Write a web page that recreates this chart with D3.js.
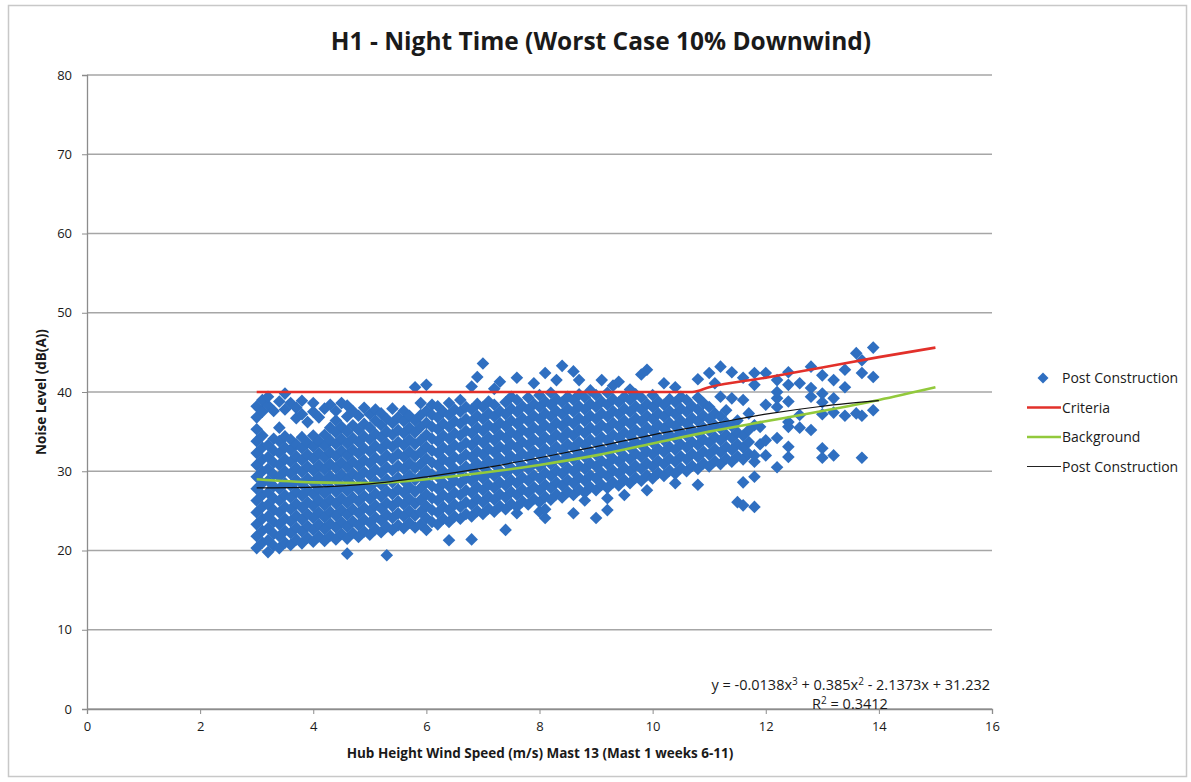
<!DOCTYPE html>
<html>
<head>
<meta charset="utf-8">
<script src="https://cdn.jsdelivr.net/npm/d3@7"></script>
<style>
  body { margin: 0; background: #fff; }
  text { font-family: 'Open Sans', 'Noto Sans', sans-serif; fill: #1a1a1a; }
</style>
</head>
<body>
<div id="chart"></div>
<script>
// axis ticks
var xTicks = [0, 2, 4, 6, 8, 10, 12, 14, 16];
var yTicks = [0, 10, 20, 30, 40, 50, 60, 70, 80];

// Post Construction measurements: [wind speed, [noise levels read at that speed]]
var postConstruction = [
  [3.0, [20.3,21.8,23.3,24.8,26.3,27.8,29.3,30.8,32.3,33.8,35.3,36.8,38.2]],
  [3.1, [21.0,22.5,24.0,25.5,27.0,28.5,30.0,31.5,33.0,34.5,37.5,39.0]],
  [3.2, [19.8,21.3,22.8,24.3,25.8,27.3,28.8,30.3,31.8,33.3,38.3,39.4]],
  [3.3, [20.6,22.1,23.6,25.1,26.6,28.1,29.6,31.1,32.6,34.1,37.6]],
  [3.4, [20.3,21.8,23.3,24.8,26.3,27.8,29.3,30.8,32.3,33.8,35.5,38.8]],
  [3.5, [21.0,22.5,24.0,25.5,27.0,28.5,30.0,31.5,33.0,34.4,37.8,39.8]],
  [3.6, [20.7,22.2,23.7,25.2,26.7,28.2,29.7,31.2,32.7,34.0,38.6]],
  [3.7, [21.4,22.9,24.4,25.9,27.4,28.9,30.4,31.9,33.4,36.7,38.0]],
  [3.8, [20.9,22.4,23.9,25.4,26.9,28.4,29.9,31.4,32.9,34.3,37.2,38.9]],
  [3.9, [21.6,23.1,24.6,26.1,27.6,29.1,30.6,32.1,33.6,36.2]],
  [4.0, [21.1,22.6,24.1,25.6,27.1,28.6,30.1,31.6,33.1,34.5,37.5,38.6]],
  [4.1, [21.8,23.3,24.8,26.3,27.8,29.3,30.8,32.3,33.8,36.8]],
  [4.2, [21.2,22.7,24.2,25.7,27.2,28.7,30.2,31.7,33.2,34.6,37.9]],
  [4.3, [21.9,23.4,24.9,26.4,27.9,29.4,30.9,32.4,33.9,35.5,38.4]],
  [4.4, [21.4,22.9,24.4,25.9,27.4,28.9,30.4,31.9,33.4,34.9,36.4,37.6]],
  [4.5, [22.1,23.6,25.1,26.6,28.1,29.6,31.1,32.6,34.1,35.6,38.6]],
  [4.6, [19.6,21.5,23.0,24.5,26.0,27.5,29.0,30.5,32.0,33.5,35.0,36.9,38.3]],
  [4.7, [22.2,23.7,25.2,26.7,28.2,29.7,31.2,32.7,34.2,35.8,37.6]],
  [4.8, [21.7,23.2,24.7,26.2,27.7,29.2,30.7,32.2,33.7,35.2,37.0]],
  [4.9, [22.4,23.9,25.4,26.9,28.4,29.9,31.4,32.9,34.4,36.0,38.0]],
  [5.0, [22.0,23.5,25.0,26.5,28.0,29.5,31.0,32.5,34.0,35.5,37.2]],
  [5.1, [22.7,24.2,25.7,27.2,28.7,30.2,31.7,33.2,34.7,36.4,37.8]],
  [5.2, [22.3,23.8,25.3,26.8,28.3,29.8,31.3,32.8,34.3,35.8,37.3]],
  [5.3, [19.4,23.0,24.5,26.0,27.5,29.0,30.5,32.0,33.5,35.0,36.6]],
  [5.4, [22.6,24.1,25.6,27.1,28.6,30.1,31.6,33.1,34.6,36.1,37.9]],
  [5.5, [23.2,24.7,26.2,27.7,29.2,30.7,32.2,33.7,35.2,36.8]],
  [5.6, [22.8,24.3,25.8,27.3,28.8,30.3,31.8,33.3,34.8,36.3,37.6]],
  [5.7, [23.5,25.0,26.5,28.0,29.5,31.0,32.5,34.0,35.5,37.0]],
  [5.8, [22.9,24.4,25.9,27.4,28.9,30.4,31.9,33.4,34.9,36.4,40.6]],
  [5.9, [23.3,24.9,26.4,27.9,29.4,30.9,32.4,33.9,35.6,37.1,38.6]],
  [6.0, [22.6,24.1,25.6,27.1,28.6,30.1,31.6,33.1,34.6,36.1,37.6,40.9]],
  [6.1, [23.6,25.1,26.6,28.1,29.6,31.1,32.6,34.1,35.6,37.1,38.4]],
  [6.2, [23.3,24.8,26.3,27.8,29.3,30.8,32.3,33.8,35.3,36.8,38.2]],
  [6.3, [24.0,25.5,27.0,28.5,30.0,31.5,33.0,34.5,36.0,37.5]],
  [6.4, [21.3,23.6,25.1,26.6,28.1,29.6,31.1,32.6,34.1,35.6,37.1,38.6]],
  [6.5, [24.3,25.8,27.3,28.8,30.3,31.8,33.3,34.8,36.3,37.8]],
  [6.6, [24.0,25.5,27.0,28.5,30.0,31.5,33.0,34.5,36.0,37.5,39.0]],
  [6.7, [24.6,26.1,27.6,29.1,30.6,32.1,33.6,35.1,36.6,38.1]],
  [6.8, [21.4,24.3,25.8,27.3,28.8,30.3,31.8,33.3,34.8,36.3,37.8,40.7]],
  [6.9, [25.0,26.5,28.0,29.5,31.0,32.5,34.0,35.5,37.0,38.5,41.9]],
  [7.0, [24.6,26.1,27.6,29.1,30.6,32.1,33.6,35.1,36.6,38.1,43.6]],
  [7.1, [25.3,26.8,28.3,29.8,31.3,32.8,34.3,35.8,37.3,38.8]],
  [7.2, [24.9,26.4,27.9,29.4,30.9,32.4,33.9,35.4,36.9,38.4,40.4]],
  [7.3, [25.6,27.1,28.6,30.1,31.6,33.1,34.6,36.1,37.6,41.3]],
  [7.4, [22.6,25.2,26.7,28.2,29.7,31.2,32.7,34.2,35.7,37.2,38.7]],
  [7.5, [25.9,27.4,28.9,30.4,31.9,33.4,34.9,36.4,37.9,39.4]],
  [7.6, [24.7,25.5,27.0,28.5,30.0,31.5,33.0,34.5,36.0,37.5,39.0,41.8]],
  [7.7, [26.2,27.7,29.2,30.7,32.2,33.7,35.2,36.7,38.2]],
  [7.8, [25.8,27.3,28.8,30.3,31.8,33.3,34.8,36.3,37.8,39.3]],
  [7.9, [26.5,28.0,29.5,31.0,32.5,34.0,35.5,37.0,38.5,41.1]],
  [8.0, [24.9,26.1,27.6,29.1,30.6,32.1,33.6,35.1,36.6,38.1,39.6]],
  [8.1, [24.1,25.2,26.8,28.3,29.8,31.3,32.8,34.3,35.8,37.3,38.8,42.4]],
  [8.2, [26.4,27.9,29.4,30.9,32.4,33.9,35.4,36.9,38.4,39.9]],
  [8.3, [27.1,28.6,30.1,31.6,33.1,34.6,36.1,37.6,39.1,41.5]],
  [8.4, [26.7,28.2,29.7,31.2,32.7,34.2,35.7,37.2,38.7,43.3]],
  [8.5, [27.4,28.9,30.4,31.9,33.4,34.9,36.4,37.9,39.4]],
  [8.6, [24.7,27.0,28.5,30.0,31.5,33.0,34.5,36.0,37.5,39.0,42.6]],
  [8.7, [27.7,29.2,30.7,32.2,33.7,35.2,36.7,38.2,39.7,41.5]],
  [8.8, [26.3,27.3,28.8,30.3,31.8,33.3,34.8,36.3,37.8,39.3]],
  [8.9, [28.0,29.5,31.0,32.5,34.0,35.5,37.0,38.5,40.2]],
  [9.0, [24.1,27.6,29.1,30.6,32.1,33.6,35.1,36.6,38.1,39.6]],
  [9.1, [28.3,29.8,31.3,32.8,34.3,35.8,37.3,38.8,41.5]],
  [9.2, [25.1,26.6,27.9,29.4,30.9,32.4,33.9,35.4,36.9,38.4,39.9]],
  [9.3, [28.6,30.1,31.6,33.1,34.6,36.1,37.6,39.1,40.8]],
  [9.4, [28.2,29.7,31.2,32.7,34.2,35.7,37.2,38.7,41.3]],
  [9.5, [27.0,28.9,30.4,31.9,33.4,34.9,36.4,37.9,39.4]],
  [9.6, [28.5,30.0,31.5,33.0,34.5,36.0,37.5,39.0,40.3]],
  [9.7, [29.2,30.7,32.2,33.7,35.2,36.7,38.2,39.7]],
  [9.8, [28.8,30.3,31.8,33.3,34.8,36.3,37.8,39.3,42.2]],
  [9.9, [27.6,29.5,31.0,32.5,34.0,35.5,37.0,38.5,42.8]],
  [10.0, [29.1,30.6,32.1,33.6,35.1,36.6,38.1,39.6]],
  [10.1, [29.8,31.3,32.8,34.3,35.8,37.3,38.8]],
  [10.2, [29.4,30.9,32.4,33.9,35.4,36.9,38.4,41.1]],
  [10.3, [30.1,31.6,33.1,34.6,36.1,37.6,39.1]],
  [10.4, [28.5,29.7,31.2,32.7,34.2,35.7,37.2,38.7,40.6]],
  [10.5, [30.4,31.9,33.4,34.9,36.4,37.9,39.4]],
  [10.6, [30.0,31.5,33.0,34.5,36.0,37.5,39.0]],
  [10.7, [30.7,32.2,33.7,35.2,36.7,38.2]],
  [10.8, [28.3,30.3,31.8,33.3,34.8,36.3,37.8,39.3,41.6]],
  [10.9, [31.0,32.5,34.0,35.5,37.0,38.6]],
  [11.0, [30.6,32.1,33.6,35.1,36.6,38.1,42.4]],
  [11.1, [31.3,32.8,34.3,35.8,37.3,41.1]],
  [11.2, [30.9,32.4,33.9,35.4,36.9,39.4,43.2]],
  [11.3, [31.6,33.1,34.6,36.1,37.7]],
  [11.4, [31.2,32.7,34.2,35.7,39.2,42.5]],
  [11.5, [26.1,31.9,33.4,34.9,36.4]],
  [11.6, [25.7,28.6,31.5,33.0,34.5,39.0,41.8]],
  [11.7, [32.2,33.7,35.2,37.3]],
  [11.8, [25.5,29.3,31.2,32.0,35.8,40.9,42.4]],
  [11.9, [33.4,35.6]],
  [12.0, [32.0,33.9,38.4,42.4]],
  [12.2, [30.5,34.2,38.1,39.2,40.0,41.5]],
  [12.4, [31.8,33.1,35.6,36.2,38.8,40.9,42.5]],
  [12.6, [35.5,37.1,41.1]],
  [12.8, [35.2,39.4,40.5,43.2]],
  [13.0, [31.7,32.9,37.2,38.7,39.8,42.1]],
  [13.2, [32.0,37.4,39.2,41.5]],
  [13.4, [37.0,40.6,42.8]],
  [13.6, [37.3,44.9]],
  [13.7, [31.7,37.0,42.4,44.0]],
  [13.9, [37.7,41.9,45.6]]
];

// line series
var criteriaX = [3, 4, 5, 6, 7, 8, 9, 10, 10.7, 11, 12, 13, 14, 15];
var criteriaY = [40, 40, 40, 40, 40, 40, 40, 40, 40, 40.6, 41.8, 43.1, 44.4, 45.6];
var backgroundX = [3, 4, 5, 6, 7, 8, 9, 10, 11, 12, 13, 14, 15];
var backgroundY = [29.0, 28.6, 28.5, 29.0, 29.8, 30.8, 32.0, 33.5, 35.0, 36.3, 37.6, 39.0, 40.6];
var trendX = [3, 4, 5, 6, 7, 8, 9, 10, 11, 12, 13, 14];
var trendY = [27.9, 28.0, 28.4, 29.3, 30.4, 31.7, 33.1, 34.6, 35.9, 37.2, 38.2, 38.9];

var W = 1191, H = 782;
var svg = d3.select("#chart").append("svg").attr("width", W).attr("height", H);

// chart frame
svg.append("rect").attr("x", 8.5).attr("y", 5.5).attr("width", 1178).attr("height", 771)
  .attr("fill", "#fff").attr("stroke", "#c8c8c8").attr("stroke-width", 1.5);

var x = d3.scaleLinear().domain([0, 16]).range([87, 992]);
var y = d3.scaleLinear().domain([0, 80]).range([709, 75]);

// gridlines
svg.append("g").selectAll("line").data(yTicks).enter().append("line")
  .attr("x1", x(0)).attr("x2", x(16))
  .attr("y1", function (d) { return y(d); }).attr("y2", function (d) { return y(d); })
  .attr("stroke", "#a6a6a6").attr("stroke-width", 1.3);

var xAxis = svg.append("g").attr("transform", "translate(0," + y(0) + ")")
  .call(d3.axisBottom(x).tickValues(xTicks).tickSize(5).tickPadding(8));
var yAxis = svg.append("g").attr("transform", "translate(" + x(0) + ",0)")
  .call(d3.axisLeft(y).tickValues(yTicks).tickSize(5).tickPadding(10));
[xAxis, yAxis].forEach(function (g) {
  g.select(".domain").attr("stroke", "#8c8c8c").attr("stroke-width", 1.3);
  g.selectAll(".tick line").attr("stroke", "#8c8c8c");
  g.selectAll(".tick text").style("font-size", "13px").attr("fill", "#222");
});

// scatter points (Excel style diamonds)
var pts = [];
postConstruction.forEach(function (c) {
  c[1].forEach(function (v) { pts.push([c[0], v]); });
});
var r = 6.3;
svg.append("g").selectAll("path").data(pts).enter().append("path")
  .attr("d", function (d) {
    var cx = x(d[0]), cy = y(d[1]);
    return "M" + cx + "," + (cy - r) + "L" + (cx + r) + "," + cy + "L" + cx + "," + (cy + r) + "L" + (cx - r) + "," + cy + "Z";
  })
  .attr("fill", "#2f6fc1");

function drawLine(xs, ys, color, w) {
  var data = xs.map(function (v, i) { return [v, ys[i]]; });
  svg.append("path").datum(data)
    .attr("d", d3.line().x(function (d) { return x(d[0]); }).y(function (d) { return y(d[1]); }).curve(d3.curveMonotoneX))
    .attr("fill", "none").attr("stroke", color).attr("stroke-width", w);
}
drawLine(criteriaX, criteriaY, "#e2302a", 2.6);
drawLine(backgroundX, backgroundY, "#92c93c", 2.6);
drawLine(trendX, trendY, "#111", 1.2);

// title
svg.append("text").attr("x", 601).attr("y", 50).attr("text-anchor", "middle")
  .style("font-size", "24.5px").style("font-weight", "bold").text("H1 - Night Time (Worst Case 10% Downwind)");

// axis titles
svg.append("text").attr("x", 540).attr("y", 758).attr("text-anchor", "middle")
  .style("font-size", "13.5px").style("font-weight", "bold")
  .text("Hub Height Wind Speed (m/s) Mast 13 (Mast 1 weeks 6-11)");
svg.append("text").attr("transform", "translate(46,392) rotate(-90)").attr("text-anchor", "middle")
  .style("font-size", "13.5px").style("font-weight", "bold").text("Noise Level (dB(A))");

// trendline equation
svg.append("text").attr("x", 990).attr("y", 690).attr("text-anchor", "end").style("font-size", "14.5px")
  .html("y = -0.0138x<tspan dy='-5' font-size='10'>3</tspan><tspan dy='5'> + 0.385x</tspan><tspan dy='-5' font-size='10'>2</tspan><tspan dy='5'> - 2.1373x + 31.232</tspan>");
svg.append("text").attr("x", 850).attr("y", 709).attr("text-anchor", "middle").style("font-size", "14.5px")
  .html("R<tspan dy='-5' font-size='10'>2</tspan><tspan dy='5'> = 0.3412</tspan>");

// legend
var legend = svg.append("g").attr("transform", "translate(1027,378)");
var items = [
  { label: "Post Construction", type: "diamond" },
  { label: "Criteria", type: "line", color: "#e2302a", w: 2.6 },
  { label: "Background", type: "line", color: "#92c93c", w: 2.6 },
  { label: "Post Construction", type: "line", color: "#222", w: 1.2 }
];
items.forEach(function (it, i) {
  var g = legend.append("g").attr("transform", "translate(0," + (i * 29.5) + ")");
  if (it.type === "diamond") {
    g.append("path").attr("d", "M16,-5.5L21.5,0L16,5.5L10.5,0Z").attr("fill", "#2f6fc1");
  } else {
    g.append("line").attr("x1", 0).attr("x2", 34).attr("y1", 0).attr("y2", 0)
      .attr("stroke", it.color).attr("stroke-width", it.w);
  }
  g.append("text").attr("x", 35).attr("y", 5).style("font-size", "14px").text(it.label);
});
</script>
</body>
</html>
